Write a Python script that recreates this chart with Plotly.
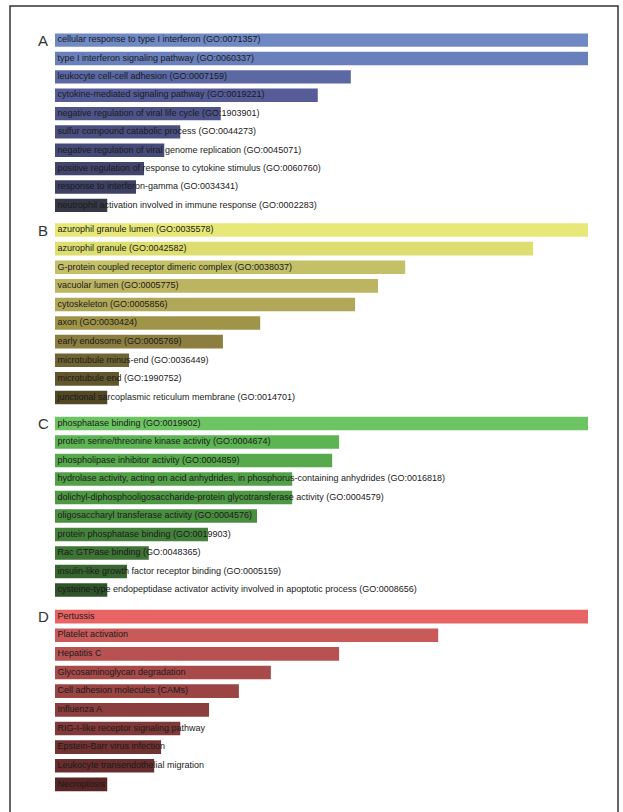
import plotly.graph_objects as go

# Enrichment results: four libraries, ten top terms each (bar length = enrichment score)
panel_letters = ["A", "B", "C", "D"]

terms_a = [
    "cellular response to type I interferon (GO:0071357)",
    "type I interferon signaling pathway (GO:0060337)",
    "leukocyte cell-cell adhesion (GO:0007159)",
    "cytokine-mediated signaling pathway (GO:0019221)",
    "negative regulation of viral life cycle (GO:1903901)",
    "sulfur compound catabolic process (GO:0044273)",
    "negative regulation of viral genome replication (GO:0045071)",
    "positive regulation of response to cytokine stimulus (GO:0060760)",
    "response to interferon-gamma (GO:0034341)",
    "neutrophil activation involved in immune response (GO:0002283)",
]
scores_a = [100, 100, 55.5, 49.3, 31.1, 23.5, 20.5, 16.7, 15.2, 9.8]

terms_b = [
    "azurophil granule lumen (GO:0035578)",
    "azurophil granule (GO:0042582)",
    "G-protein coupled receptor dimeric complex (GO:0038037)",
    "vacuolar lumen (GO:0005775)",
    "cytoskeleton (GO:0005856)",
    "axon (GO:0030424)",
    "early endosome (GO:0005769)",
    "microtubule minus-end (GO:0036449)",
    "microtubule end (GO:1990752)",
    "junctional sarcoplasmic reticulum membrane (GO:0014701)",
]
scores_b = [100, 89.7, 65.7, 60.6, 56.3, 38.5, 31.5, 13.9, 12.0, 9.8]

terms_c = [
    "phosphatase binding (GO:0019902)",
    "protein serine/threonine kinase activity (GO:0004674)",
    "phospholipase inhibitor activity (GO:0004859)",
    "hydrolase activity, acting on acid anhydrides, in phosphorus-containing anhydrides (GO:0016818)",
    "dolichyl-diphosphooligosaccharide-protein glycotransferase activity (GO:0004579)",
    "oligosaccharyl transferase activity (GO:0004576)",
    "protein phosphatase binding (GO:0019903)",
    "Rac GTPase binding (GO:0048365)",
    "insulin-like growth factor receptor binding (GO:0005159)",
    "cysteine-type endopeptidase activator activity involved in apoptotic process (GO:0008656)",
]
scores_c = [100, 53.3, 52.0, 44.5, 44.5, 37.9, 28.7, 17.6, 13.5, 9.8]

terms_d = [
    "Pertussis",
    "Platelet activation",
    "Hepatitis C",
    "Glycosaminoglycan degradation",
    "Cell adhesion molecules (CAMs)",
    "Influenza A",
    "RIG-I-like receptor signaling pathway",
    "Epstein-Barr virus infection",
    "Leukocyte transendothelial migration",
    "Necroptosis",
]
scores_d = [100, 71.9, 53.3, 40.5, 34.5, 28.9, 23.5, 19.9, 18.6, 9.8]

colors_a = ["#7088c4", "#6a80bc", "#5c68a4", "#565c98", "#4e548a",
            "#4a4e80", "#464a78", "#42446c", "#3e4064", "#363848"]
colors_b = ["#e8e878", "#dede70", "#c4c068", "#bcb460", "#b0a858",
            "#a09448", "#8c7e40", "#706434", "#62562c", "#524824"]
colors_c = ["#6cc462", "#5cb452", "#56aa4c", "#52a048", "#4e9844",
            "#4a8e40", "#44823c", "#3e7436", "#386630", "#30542a"]
colors_d = ["#e86464", "#c85a5a", "#b85252", "#a84a4a", "#9a4444",
            "#8c3e3e", "#803838", "#723232", "#682e2e", "#582626"]

panels = [
    (terms_a, scores_a, colors_a),
    (terms_b, scores_b, colors_b),
    (terms_c, scores_c, colors_c),
    (terms_d, scores_d, colors_d),
]

W, H = 623, 812
ML, MR = 55, 35
# vertical extent (px from top) of each panel
panel_px = [(31.0, 214.5), (220.75, 406.75), (414.25, 599.25), (607.25, 793.75)]

fig = go.Figure()
layout_axes = {}
for i, ((terms, scores, cols), (top, bot)) in enumerate(zip(panels, panel_px)):
    n = i + 1
    xa = "x" if n == 1 else f"x{n}"
    ya = "y" if n == 1 else f"y{n}"
    fig.add_trace(go.Bar(
        x=scores, y=terms, orientation="h",
        marker=dict(color=cols, line=dict(width=0)),
        width=0.73, xaxis=xa, yaxis=ya, hoverinfo="x+y",
    ))
    fig.add_trace(go.Scatter(
        x=[0] * len(terms), y=terms, mode="text", text=[" " + t for t in terms],
        textposition="middle right",
        textfont=dict(family="Liberation Sans, Arial, sans-serif", size=9, color="#1a1a1a"),
        xaxis=xa, yaxis=ya, hoverinfo="skip", cliponaxis=False,
    ))
    xkey = "xaxis" if n == 1 else f"xaxis{n}"
    ykey = "yaxis" if n == 1 else f"yaxis{n}"
    layout_axes[xkey] = dict(
        domain=[0, 1], range=[0, 100], visible=False, fixedrange=True,
        anchor=ya,
    )
    layout_axes[ykey] = dict(
        domain=[1 - bot / H, 1 - top / H], autorange="reversed", visible=False,
        type="category", anchor=xa, fixedrange=True,
    )
    fig.add_annotation(
        x=(43 - ML) / (W - ML - MR), xref="paper",
        y=1 - (top + 9.5) / H, yref="paper",
        text=panel_letters[i], showarrow=False, xanchor="center", yanchor="middle",
        font=dict(family="Liberation Sans, Arial, sans-serif", size=15, color="#333333"),
    )

fig.update_layout(**layout_axes)

# outer frame (open at the bottom edge of the page)
pw = W - ML - MR
fig.add_shape(
    type="path", xref="paper", yref="paper",
    path=(f"M {(10 - ML) / pw},-0.02 L {(10 - ML) / pw},{1 - 6 / H} "
          f"L {(618 - ML) / pw},{1 - 6 / H} L {(618 - ML) / pw},-0.02"),
    line=dict(color="#333333", width=1.5),
)

fig.update_layout(
    width=W, height=H,
    margin=dict(l=ML, r=MR, t=0, b=0),
    paper_bgcolor="white", plot_bgcolor="white",
    showlegend=False, bargap=0.27,
)

fig.write_html("out.html")
